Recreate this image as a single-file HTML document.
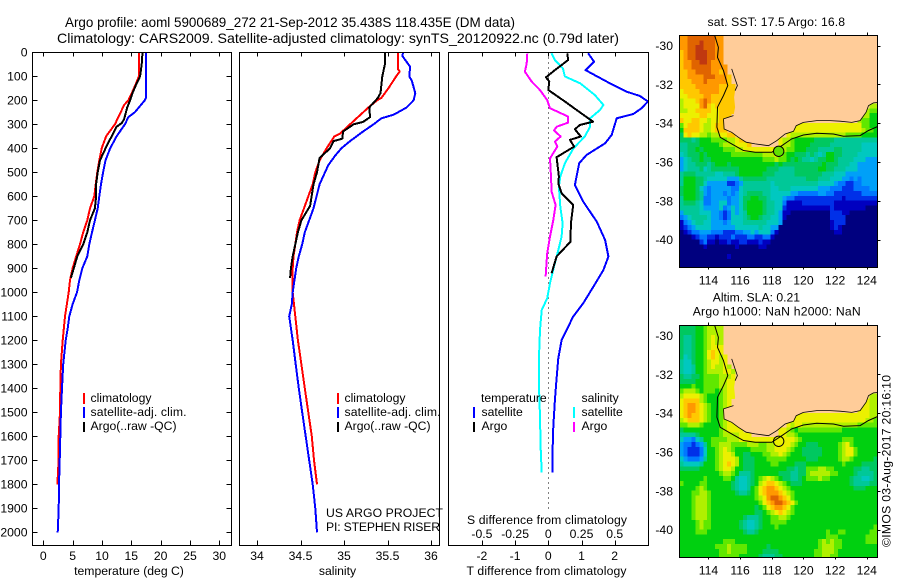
<!DOCTYPE html>
<html lang="en">
<head>
<meta charset="utf-8">
<title>Argo profile 5900689_272</title>
<style>
html,body{margin:0;padding:0;background:#fff;}
svg{display:block;}
text{font-family:"Liberation Sans",sans-serif;font-size:12.2px;fill:#000;}
.tt{font-size:13.7px;}
</style>
</head>
<body>
<svg id="fig" xmlns="http://www.w3.org/2000/svg" width="900" height="580" viewBox="0 0 900 580">
  <defs>
    <clipPath id="clip-sst"><rect x="679.5" y="35.5" width="198" height="232"/></clipPath>
    <clipPath id="clip-sla"><rect x="679.5" y="325.5" width="198" height="232"/></clipPath>
  </defs>
  <text class="tt" x="65" y="27" textLength="450" lengthAdjust="spacingAndGlyphs">Argo profile: aoml 5900689_272 21-Sep-2012 35.438S 118.435E (DM data)</text>
  <text class="tt" x="57" y="43" textLength="562" lengthAdjust="spacingAndGlyphs">Climatology: CARS2009. Satellite-adjusted climatology: synTS_20120922.nc (0.79d later)</text>

  <g id="p1"></g>
  <g id="p2"></g>
  <g id="p3"></g>
  <g id="m1"></g>
  <g id="m2"></g>

  <g>
    <rect x="83" y="393" width="2" height="11" fill="#ff0000"/>
    <text x="90.5" y="402">climatology</text>
    <rect x="83" y="407" width="2" height="11" fill="#0000ff"/>
    <text x="90.5" y="416" textLength="96">satellite-adj. clim.</text>
    <rect x="83" y="422" width="2" height="10" fill="#000"/>
    <text x="90.5" y="430">Argo(..raw -QC)</text>
  </g>
  <g>
    <rect x="337" y="393" width="2" height="11" fill="#ff0000"/>
    <text x="344.5" y="402">climatology</text>
    <rect x="337" y="407" width="2" height="11" fill="#0000ff"/>
    <text x="344.5" y="416" textLength="96">satellite-adj. clim.</text>
    <rect x="337" y="422" width="2" height="10" fill="#000"/>
    <text x="344.5" y="430">Argo(..raw -QC)</text>
    <text x="326" y="517" textLength="117">US ARGO PROJECT</text>
    <text x="326" y="531" textLength="114">PI: STEPHEN RISER</text>
  </g>
  <g>
    <text x="481" y="402">temperature</text>
    <rect x="473" y="407" width="2" height="11" fill="#0000ff"/>
    <text x="481.5" y="416">satellite</text>
    <rect x="473" y="422" width="2" height="10" fill="#000"/>
    <text x="481.5" y="430">Argo</text>
    <text x="581.5" y="402">salinity</text>
    <rect x="573" y="407" width="2" height="11" fill="#00ffff"/>
    <text x="581.5" y="416">satellite</text>
    <rect x="573" y="422" width="2" height="10" fill="#ff00ff"/>
    <text x="581.5" y="430">Argo</text>
  </g>

  <text x="129" y="575" text-anchor="middle">temperature (deg C)</text>
  <text x="337.5" y="575" text-anchor="middle">salinity</text>
  <text x="547" y="524" text-anchor="middle" textLength="160">S difference from climatology</text>
  <text x="546.5" y="575" text-anchor="middle" textLength="160">T difference from climatology</text>

  <text x="707.5" y="26" textLength="137.5">sat. SST: 17.5 Argo: 16.8</text>
  <text x="712.7" y="301.7">Altim. SLA: 0.21</text>
  <text x="692.7" y="315.3" textLength="168">Argo h1000: NaN h2000: NaN</text>
  <text transform="translate(890.5,547) rotate(-90)" textLength="172">©IMOS 03-Aug-2017 20:16:10</text>
</svg>

<script>
/* ---------- profile data ---------- */
const tempClimDepth=[0,100,150,200,220,250,300,350,400,450,500,550,600,650,700,750,800,850,900,950,1000,1100,1200,1300,1400,1500,1600,1700,1800];
const tempClimValue=[16.3,16.3,15.46,14.5,13.75,13.2,12.2,10.7,9.95,9.55,9.2,8.93,8.7,7.96,7.5,6.8,6.25,5.6,5.0,4.55,4.33,3.7,3.3,3.0,2.9,2.85,2.62,2.6,2.4];
const tempSatDepth=[0,190,200,250,270,300,350,400,450,500,550,600,650,700,750,800,850,900,950,1000,1050,1100,1150,1200,1300,1400,1500,1600,1700,1800,1900,2000];
const tempSatValue=[17.5,17.5,17.3,15.6,14.5,13.9,12.5,11.4,10.6,10.2,9.83,9.55,9.27,8.8,8.3,7.84,7.5,6.65,6.14,5.74,5.0,4.43,4.16,3.82,3.4,3.19,3.0,2.9,2.8,2.68,2.62,2.45];
const tempArgoDepth=[0,50,100,130,170,200,230,280,295,310,350,380,450,500,550,600,650,700,750,800,850,900,940];
const tempArgoValue=[16.9,16.77,16.5,15.9,15.2,14.8,14.3,13.75,13.36,12.5,11.66,11,9.66,9.27,9,9,8.8,7.96,7.5,6.8,5.8,5.2,4.7];

const salClimDepth=[0,70,80,100,150,190,200,230,270,300,340,350,400,450,500,550,600,650,700,750,800,850,900,1000,1050,1100,1200,1300,1400,1500,1600,1700,1800];
const salClimValue=[35.62,35.62,35.64,35.6,35.51,35.43,35.38,35.28,35.16,35.07,34.95,34.89,34.8,34.72,34.67,34.64,34.59,34.54,34.49,34.46,34.44,34.42,34.41,34.41,34.425,34.44,34.47,34.51,34.55,34.59,34.63,34.655,34.69];
const salSatDepth=[0,15,30,60,100,120,170,200,230,260,275,300,330,370,400,430,470,550,650,750,800,850,900,1000,1050,1100,1200,1300,1400,1500,1600,1700,1800,1900,2000];
const salSatValue=[35.68,35.67,35.7,35.76,35.75,35.78,35.82,35.8,35.72,35.57,35.43,35.34,35.22,35.07,34.97,34.9,34.82,34.72,34.65,34.55,34.52,34.48,34.45,34.41,34.4,34.37,34.41,34.445,34.48,34.52,34.56,34.6,34.64,34.67,34.69];
const salArgoDepth=[0,50,100,170,190,210,230,270,290,300,330,360,370,400,440,500,550,640,700,750,800,850,900,940];
const salArgoValue=[35.47,35.47,35.44,35.42,35.39,35.34,35.29,35.3,35.22,35.11,34.99,34.98,34.88,34.84,34.72,34.69,34.65,34.61,34.51,34.47,34.44,34.41,34.39,34.38];

const diffTSatDepth=[4,39,74,122,164,182,205,233,257,275,344,379,428,462,553,622,706,782,851,907,976,1046,1101,1157,1199,1275,1358,1449,1560,1657,1750];
const diffTSatValue=[1.2,1.38,1.12,1.76,2.36,2.76,3.0,2.81,2.56,2.06,1.91,1.71,1.15,0.93,0.8,1.05,1.46,1.71,1.81,1.66,1.36,1.05,0.75,0.55,0.4,0.3,0.25,0.2,0.15,0.13,0.13];
const diffSSatDepth=[4,32,67,101,129,178,219,240,275,310,351,400,462,518,560,643,712,768,824,893,962,1025,1074,1157,1268,1393,1518,1643,1750];
const diffSSatValue=[0.025,0.05,0.11,0.125,0.24,0.35,0.415,0.39,0.315,0.315,0.275,0.19,0.125,0.09,0.08,0.09,0.108,0.1,0.075,0.043,0.013,-0.008,-0.05,-0.0625,-0.07,-0.07,-0.0625,-0.058,-0.05];
const diffTArgoDepth=[4,32,74,104,122,157,205,240,289,303,321,351,365,393,437,518,546,587,636,712,789,851,921];
const diffTArgoValue=[0.57,0.6,0.2,-0.07,0.03,0,0.5,0.85,1.35,0.95,0.8,0.98,0.65,0.78,0.25,0.32,0.3,0.4,0.75,0.68,0.67,0.25,0.1];
const diffSArgoDepth=[4,46,81,122,157,199,233,268,293,310,326,351,372,393,442,518,581,636,699,768,837,935];
const diffSArgoValue=[-0.158,-0.163,-0.176,-0.125,-0.063,-0.008,0.013,0.15,0.15,0.063,0.043,0.093,0.05,0.068,0.013,0.02,0.025,0.055,0.038,0.013,-0.008,-0.02];

/* ---------- tick labels ---------- */
const depthTicks=[0,100,200,300,400,500,600,700,800,900,1000,1100,1200,1300,1400,1500,1600,1700,1800,1900,2000];
const tempTicks=[0,5,10,15,20,25,30];
const salTicks=[34,34.5,35,35.5,36];
const diffTTicks=[-2,-1,0,1,2];
const diffSTicks=[-0.5,-0.25,0,0.25,0.5];
const lonTicks=[114,116,118,120,122,124];
const latTicks=[30,32,34,36,38,40];

/* ---------- geography ---------- */
const coastLon=[114.95,114.99,115.26,115.47,115.68,115.83,115.68,115.62,115.68,115.58,115.26,114.95,114.99,115.47,115.89,116.38,116.95,117.79,118.32,118.84,119.37,119.54,120.0,120.84,121.68,122.32,123.05,123.58,123.96,124.11,124.42,124.67];
const coastLat=[29.4,30.6,30.86,31.2,31.72,32.06,32.32,32.66,33.17,33.6,33.69,33.77,34.29,34.46,34.72,34.97,35.06,35.15,34.89,34.55,34.41,34.12,33.95,33.86,33.86,33.89,33.95,33.86,33.43,33.09,32.95,32.93];
const isoLon=[114.36,114.63,114.57,114.95,115.22,114.95,114.57,114.53,114.74,115.47,116.21,116.95,118.0,118.63,119.26,120.0,120.84,121.89,122.53,123.58,124.11,124.67];
const isoLat=[29.4,30.09,30.6,31.29,32.06,32.57,33.17,34.2,34.72,35.06,35.4,35.49,35.49,35.15,34.8,34.6,34.51,34.55,34.67,34.63,34.37,34.17];
const floatLon=118.435;
const floatLat=35.438;

/* ---------- gridded map values: one palette index per 0.25 deg cell, '.' = under land ---------- */
const sstRows=[
"ddeeeeeeed d",
"ddeeefeeed d",
"ddeeffeeed d",
"cdeefffeed d",
"cdeefffeed d",
"cddeeffedd d",
"cddeeeeedd dd",
"ccddeeeedd cd",
"ccddddeeed ddc",
"cccdddeddd ddc",
"ccccdddddd cccc",
"bccccddddd cccc",
"bbccccddcc cccc",
"abbbcdedcc cccc",
"abbbbdecbc cccc...... .......... .......... ........aa",
"aabbccccbb cccc...... .......... .......... .......a99",
"bbbbbccbbb ccc....... .......... .......... ......aa88",
"cbbccbbabb cc........ .......... .......... .....a9988",
"9bcccbaabc cc........ .........b bbbbbbbbbb bbbbbb9988",
"8ccccbaabc cc........ ........bb bbbbbbbbbb bbbbbba998",
"7bcbbaa9aa bbcc...... .......baa aaaaaaaaaa aa99998888",
"7776788899 99aabcc... .....baa98 8888777776 6666666666",
"6677788888 9aaabbbc.. .....baa98 8887777766 6666665555",
"6677878888 8999aabbbb bbbbbba998 8877766667 7666665555",
"5677787888 8889999999 9aaaba9887 7767656887 7666655555",
"4567787788 8888888888 8999a99878 7665677887 6666555444",
"4566777678 8878888888 8888787777 7777778777 6665544444",
"4566675677 7777788888 8877766667 7777788776 6655544444",
"6777666665 5666788888 8777666667 7777776665 5544444444",
"6888776555 5544467777 7766666666 6677766655 5443434444",
"6888775444 4422346666 6665666666 6666655554 3322334444",
"7888754344 4443356666 6665566655 5555544433 3222333344",
"7888764344 4343456777 7665555544 3333344332 2222223333",
"6888763344 4434457788 7765554332 2222222222 2122222222",
"6777653344 5534457888 8766553111 1222222221 1111111111",
"6666654444 5345457888 8766552111 1111111121 1111111000",
"4666655544 3235456888 8766541100 0000000022 2110000000",
"3456666544 3235556788 7665541000 0000000022 2200000000",
"1345665544 4345556666 6655540000 0000000012 2200000000",
"1234555544 4444555555 6554400000 0000000012 1000000000",
"0123344433 3222334454 5553100000 0000000001 1000000000",
"0001233221 2223222332 2331000000 0000000000 0000000000",
"0000023110 1121122111 2110000000 0000000000 0000000000",
"0000001000 0000100000 1100000000 0000000000 0000000000",
"0000000000 0000000000 0000000000 0000000000 0000000000",
"0000000000 0010000000 0000000000 0000000000 0000000000",
"0000000000 0000000000 0000000000 0000000000 0000000000",
"0000000000 0000000000 0000000000 0000000000 0000000000"
];
const slaRows=[
"7777889aaa a",
"7777889aaa a",
"7667889aba a",
"7667889aba a",
"7667889abb b",
"7667889bcb b",
"7567889bcb ab",
"6557889abb ab",
"6556889aba aba",
"6556889aaa abba",
"7667789999 aaab",
"7777889999 aabb",
"8889889999 aabb",
"9aaa989998 9abb",
"abbbba9888 9abb...... .......... .......... ........aa",
"bcccca9888 9ab....... .......... .......... .......baa",
"bcddcba988 9ab....... .......... .......... ......bbaa",
"bcddcba988 9ab....... .......... .......... .....bbbaa",
"bcdccba988 9ab....... .........b bbbbbbbbbb bbbbbbbbaa",
"abcccba988 9ab....... ........bb bbbbbbbbbb bbbbbbbaa9",
"99aaa98888 9abbb..... .......bab baaaaaaaaa aaaaa99999",
"7888888888 9abbbb.... .....bba98 9999999999 9888888888",
"6666788888 9aaaabbb.. .....bbaa9 8888888888 8888888888",
"5443568899 99aaabbbbb bbbbbbbbba 9888888888 8999888888",
"4332346899 aaa9999aaa 99aabbbba9 8877788888 9ab9888888",
"4322235889 aba9888899 99aabbba98 8777778888 9abb988888",
"4322235889 abba887788 899aaba988 8777778888 9abb988888",
"5433346889 abbba87778 8899999888 8877788888 9aa9888887",
"6555568889 abcba87778 8889988887 7788888888 8988887777",
"7777788889 abba887778 8888888776 77999aa998 8888776677",
"8888888888 9aa9866678 8888877766 779aaaaa99 8888766667",
"8888889888 8998655678 9aba987766 78999a9988 8887665567",
"9888899888 8887655678 abccba9877 7888888888 8887666677",
"88889a9888 8887655689 bcddcba988 8888888888 8888777888",
"88899aa988 8888766789 bcdddcba98 8888888888 8888888888",
"8889aaa988 8888888889 abdeedcb98 8888888888 8888888888",
"8889aaa988 8888888888 9bcdeedcb9 8888888888 8888888888",
"8889aaa988 8888888887 89bcddcb98 8888888888 8888888888",
"8889aaa988 8888888887 789abcba98 8888888888 8888888888",
"8889aaa988 8888887666 78899aa988 8888888888 8888888888",
"88889a9988 8888876556 7889999888 8888888888 8888888888",
"88889a9988 8888876556 7888988888 8888888888 8888888889",
"8888999888 8888887667 8888888888 8888888988 9988888899",
"8888888888 8888888888 8888888888 8888888999 8888888999",
"8888888888 8999888888 8888888888 888889a9a9 9888888999",
"8888888889 99a9999888 8878888888 888889aaa9 9888888888",
"8888888888 99a9999888 8777788888 888899aaa9 8888888888",
"8888888888 9999988888 7666778888 888899aa99 8888888888"
];

/* ---------- styles (separate from data) ---------- */
const palette={'0':'#00007f','1':'#0000c0','2':'#0030e8','3':'#0078ff','4':'#00a0f8','5':'#00c8c0','6':'#00c898','7':'#00c860','8':'#00d010','9':'#60e800','a':'#b0f000','b':'#ecf000','c':'#ffc800','d':'#ff9800','e':'#e06400','f':'#c03810'};
const LAND='#ffcc99';
const SVGNS='http://www.w3.org/2000/svg';

function mk(tag,attrs,parent){
  const el=document.createElementNS(SVGNS,tag);
  for(const k in attrs){el.setAttribute(k,attrs[k]);}
  parent.appendChild(el);
  return el;
}
function seg(parent,x1,y1,x2,y2,name){
  const el=mk('line',{x1:x1,y1:y1,x2:x2,y2:y2,stroke:'#000','stroke-width':1,'shape-rendering':'crispEdges'},parent);
  
  
  return el;
}
function label(parent,x,y,str,anchor,name){
  const el=mk('text',{x:x,y:y,'text-anchor':anchor},parent);
  el.textContent=str;
  
  
  return el;
}
function frame(parent,x,y,w,h,name){
  const el=mk('rect',{x:x,y:y,width:w,height:h,fill:'none',stroke:'#000','stroke-width':1,'shape-rendering':'crispEdges'},parent);
  
  
  return el;
}

/* ---------- axis functions ---------- */
const TOP=52.5, BOT=545.5;
const yDepth=d=>52.3+d*0.24;
const xTemp=t=>43.3+t*5.867;
const xSal=s=>257+(s-34)*87;
const xDiffT=v=>548.3+v*33.2;
const xDiffS=s=>xDiffT(s*4);

function profile(parent,xf,depths,values,color,width,name){
  const pts=depths.map((d,i)=>xf(values[i]).toFixed(1)+','+yDepth(d).toFixed(1)).join(' ');
  const el=mk('polyline',{points:pts,fill:'none',stroke:color,'stroke-width':width,'stroke-linejoin':'round','shape-rendering':'crispEdges'},parent);
  
  
  return el;
}

/* ---------- temperature panel ---------- */
const p1=document.getElementById('p1');
profile(p1,xTemp,tempClimDepth,tempClimValue,'#ff0000',2,'temperature-climatology-line');
profile(p1,xTemp,tempSatDepth,tempSatValue,'#0000ff',2,'temperature-satellite-line');
profile(p1,xTemp,tempArgoDepth,tempArgoValue,'#000000',2,'temperature-argo-line');
frame(p1,32.5,TOP,199,BOT-TOP,'temperature-plot-frame');
tempTicks.forEach(t=>{
  const x=Math.round(xTemp(t))+0.5;
  seg(p1,x,TOP,x,TOP+4,'temperature-top-tick');
  seg(p1,x,BOT,x,BOT-5,'temperature-bottom-tick');
  label(p1,xTemp(t),560,String(t),'middle','temperature-tick-label');
});
depthTicks.forEach(d=>{
  const y=Math.round(yDepth(d))+0.5;
  seg(p1,32.5,y,37.5,y,'depth-left-tick');
  seg(p1,231.5,y,226.5,y,'depth-right-tick');
  label(p1,27.5,yDepth(d)+4.3,String(d),'end','depth-tick-label');
});

/* ---------- salinity panel ---------- */
const p2=document.getElementById('p2');
profile(p2,xSal,salClimDepth,salClimValue,'#ff0000',2,'salinity-climatology-line');
profile(p2,xSal,salSatDepth,salSatValue,'#0000ff',2,'salinity-satellite-line');
profile(p2,xSal,salArgoDepth,salArgoValue,'#000000',2,'salinity-argo-line');
frame(p2,239.5,TOP,200,BOT-TOP,'salinity-plot-frame');
salTicks.forEach(s=>{
  const x=Math.round(xSal(s))+0.5;
  seg(p2,x,TOP,x,TOP+4,'salinity-top-tick');
  seg(p2,x,BOT,x,BOT-5,'salinity-bottom-tick');
  label(p2,xSal(s),560,String(s),'middle','salinity-tick-label');
});

/* ---------- difference panel ---------- */
const p3=document.getElementById('p3');
const zeroLine=mk('line',{x1:xDiffT(0),y1:TOP,x2:xDiffT(0),y2:512,stroke:'#000','stroke-width':1,'stroke-dasharray':'1 4','shape-rendering':'crispEdges'},p3);


profile(p3,xDiffT,diffTSatDepth,diffTSatValue,'#0000ff',2,'t-difference-satellite-line');
profile(p3,xDiffS,diffSSatDepth,diffSSatValue,'#00ffff',2,'s-difference-satellite-line');
profile(p3,xDiffT,diffTArgoDepth,diffTArgoValue,'#000000',2,'t-difference-argo-line');
profile(p3,xDiffS,diffSArgoDepth,diffSArgoValue,'#ff00ff',2,'s-difference-argo-line');
frame(p3,448.5,TOP,200,BOT-TOP,'difference-plot-frame');
diffTTicks.forEach(v=>{
  const x=Math.round(xDiffT(v))+0.5;
  seg(p3,x,TOP,x,TOP+4,'t-difference-top-tick');
  seg(p3,x,BOT,x,BOT-5,'t-difference-bottom-tick');
  label(p3,xDiffT(v),560,String(v),'middle','t-difference-tick-label');
});
diffSTicks.forEach(s=>{
  label(p3,xDiffS(s),538,String(s),'middle','s-difference-tick-label');
});

/* ---------- maps ---------- */
const LON0=112.17, LAT0=29.48, PXLON=15.83, PXLAT=19.43, MAPW=198, MAPH=232;
function drawMap(groupId,top,rows,clipId,circleFill,prefix){
  const g=document.getElementById(groupId);
  const xLon=lon=>679.5+(lon-LON0)*PXLON;
  const yLat=lat=>top+(lat-LAT0)*PXLAT;
  const inner=mk('g',{'clip-path':'url(#'+clipId+')'},g);
  
  
  const bg=mk('rect',{x:679.5,y:top,width:MAPW,height:MAPH,fill:LAND},inner);
  
  
  rows.forEach((rowStr,i)=>{
    const row=rowStr.replace(/ /g,'');
    for(let j=0;j<row.length;j++){
      const c=palette[row[j]];
      if(!c){continue;}
      const cell=mk('rect',{x:xLon(LON0+j*0.25).toFixed(2),y:yLat(LAT0+i*0.25).toFixed(2),width:(0.25*PXLON+0.6).toFixed(2),height:(0.25*PXLAT+0.6).toFixed(2),fill:c,'shape-rendering':'crispEdges'},inner);
      
      
    }
  });
  const toPts=(lons,lats)=>lons.map((lon,i)=>xLon(lon).toFixed(1)+','+yLat(lats[i]).toFixed(1));
  let pts=toPts(coastLon,coastLat);
  pts.push(xLon(124.9).toFixed(1)+','+yLat(coastLat[coastLat.length-1]).toFixed(1));
  pts.push(xLon(124.9).toFixed(1)+','+yLat(29.3).toFixed(1));
  pts.push(xLon(coastLon[0]).toFixed(1)+','+yLat(29.3).toFixed(1));
  const land=mk('polygon',{points:pts.join(' '),fill:LAND},inner);
  
  
  const coastA=mk('polyline',{points:toPts(coastLon.slice(3,7),coastLat.slice(3,7)).join(' '),fill:'none',stroke:'#000','stroke-width':0.8},inner);
  
  
  const coastB=mk('polyline',{points:toPts(coastLon.slice(9),coastLat.slice(9)).join(' '),fill:'none',stroke:'#000','stroke-width':0.8},inner);
  
  
  const iso=mk('polyline',{points:toPts(isoLon,isoLat).join(' '),fill:'none',stroke:'#000','stroke-width':1},inner);
  
  
  const dot=mk('circle',{cx:xLon(floatLon),cy:yLat(floatLat),r:5.2,fill:circleFill,stroke:'#000','stroke-width':1},inner);
  
  
  frame(g,679.5,top,MAPW,MAPH,prefix+'-frame');
  lonTicks.forEach(lon=>{
    const x=Math.round(xLon(lon))+0.5;
    seg(g,x,top,x,top-3,prefix+'-top-tick');
    seg(g,x,top+MAPH,x,top+MAPH+2,prefix+'-bottom-tick');
    label(g,xLon(lon),top+MAPH+17,String(lon),'middle',prefix+'-longitude-label');
  });
  latTicks.forEach(lat=>{
    const y=Math.round(yLat(lat))+0.5;
    seg(g,679.5+MAPW,y,679.5+MAPW+3,y,prefix+'-right-tick');
    label(g,673,yLat(lat)+4.3,'-'+lat,'end',prefix+'-latitude-label');
  });
}
drawMap('m1',35.5,sstRows,'clip-sst','#60e000','sst-map');
drawMap('m2',325.5,slaRows,'clip-sla','none','sla-map');
</script>
</body>
</html>
